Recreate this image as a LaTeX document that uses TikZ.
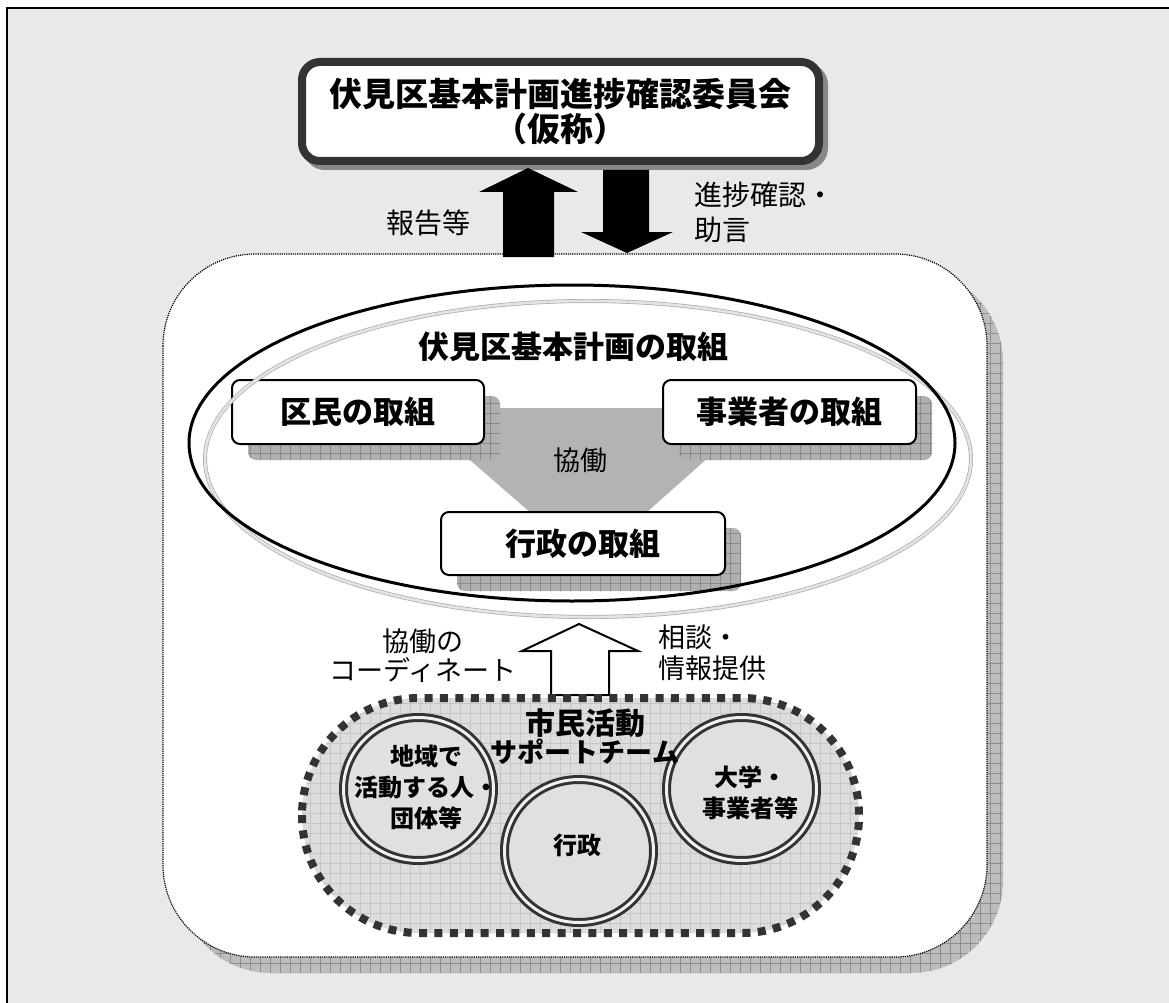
\documentclass[tikz,border=0pt]{standalone}
\usepackage{fontspec}
\setmainfont{Noto Sans CJK JP}
\usetikzlibrary{shapes.geometric,patterns.meta}
\definecolor{bgc}{HTML}{E9E9E9}
\definecolor{darkb}{HTML}{333333}
\definecolor{topsh}{HTML}{888888}
\definecolor{bigsh}{HTML}{BDBDBD}
\definecolor{bigshgrid}{HTML}{8F8F8F}
\definecolor{boxsh}{HTML}{B0B0B0}
\definecolor{boxshgrid}{HTML}{8A8A8A}
\definecolor{trap}{HTML}{B3B3B3}
\definecolor{stadfill}{HTML}{DDDDDD}
\definecolor{stadgrid}{HTML}{C6C6C6}
\definecolor{circfill}{HTML}{E0E0E0}
\tikzset{
  topbox/.style={draw=darkb, line width=8pt, fill=white, rounded corners=18pt,
    minimum width=517pt, minimum height=99pt, inner sep=0pt, align=center,
    font=\bfseries\fontsize{33}{35}\selectfont},
  topshadow/.style={draw=topsh, fill=topsh, line width=8pt, rounded corners=18pt},
  bigshadow/.style={preaction={fill=bigsh}, pattern={Hatch[distance=10pt,line width=0.6pt]},
    pattern color=bigshgrid, rounded corners=92pt},
  bigrect/.style={fill=white, draw=black, line width=1.2pt, densely dotted, rounded corners=92pt},
  blackarrow/.style={fill=black},
  whitearrow/.style={fill=white, draw=black, line width=2pt, line join=miter},
  lbl/.style={font=\fontsize{28}{35}\selectfont, inner sep=0pt},
  boxshadow/.style={preaction={fill=boxsh}, pattern={Hatch[distance=10pt,line width=0.6pt]},
    pattern color=boxshgrid, rounded corners=8pt},
  actbox/.style={draw=black, line width=2pt, fill=white, rounded corners=8pt,
    minimum height=64pt, inner sep=0pt, font=\bfseries\fontsize{31}{33}\selectfont},
  ringshadow/.style={draw=gray!65, double=gray!22, double distance=2.6pt, line width=0.7pt},
  mainellipse/.style={draw=black, line width=3pt},
  stadium/.style={preaction={fill=stadfill}, pattern={Hatch[distance=10pt,line width=0.6pt]},
    pattern color=stadgrid},
  stadborder/.style={draw=darkb, line width=8pt, dash pattern=on 8pt off 7.4pt, rounded corners=117pt},
  ring/.style={ellipse, draw=darkb, double=gray!12, double distance=3pt, line width=3pt,
    fill=circfill, inner sep=0pt},
  ctext/.style={font=\bfseries\fontsize{24}{31}\selectfont, align=center, inner sep=0pt},
}
\begin{document}
\begin{tikzpicture}[x=1pt,y=-1pt]
\useasboundingbox (0,0) rectangle (1169,1003);
% background and frame
\fill[white] (0,0) rectangle (1169,1003);
\fill[bgc] (7,8) rectangle (1169,1003);
\draw[line width=2.2pt] (7,1003) -- (7,8) -- (1169,8);

% top committee box
\draw[topshadow] (307,67) rectangle (824,166);
\node[topbox] (top) at (560.5,111.5) {伏見区基本計画進捗確認委員会\\（仮称）};

% big rounded area
\fill[bigshadow] (179,270) rectangle (1003,973);
\draw[bigrect] (163,254) rectangle (987,957);

% black arrows
\fill[blackarrow] (503,257) -- (503,192) -- (479,192) -- (528,168) -- (578,192) -- (554,192) -- (554,257) -- cycle;
\fill[blackarrow] (603,170) -- (649,170) -- (649,232) -- (673,232) -- (627,253) -- (581,232) -- (603,232) -- cycle;
\node[lbl] (hokoku) at (428,223) {報告等};
\node[lbl, anchor=west, align=left] (shinchoku) at (694,212.5) {進捗確認・\\助言};

% cooperation trapezoid
\fill[trap] (410,408) -- (764,408) -- (638,520) -- (539,520) -- cycle;

% box shadows
\fill[boxshadow] (248,396) rectangle (500,460);
\fill[boxshadow] (679,396) rectangle (932,460);
\fill[boxshadow] (457,528) rectangle (741,591);

% boxes
\node[actbox, minimum width=252pt] (kumin) at (358,412) {区民の取組};
\node[actbox, minimum width=253pt] (jigyo) at (789.5,412) {事業者の取組};
\node[actbox, minimum width=284pt, minimum height=63pt] (gyosei) at (583,543.5) {行政の取組};

% ellipses
\draw[ringshadow] (588,459) ellipse [x radius=383, y radius=158];
\draw[mainellipse] (572,443) ellipse [x radius=383, y radius=158];
\node[font=\bfseries\fontsize{31}{33}\selectfont, inner sep=0pt] (title) at (573,347) {伏見区基本計画の取組};
\node[lbl, font=\fontsize{27}{30}\selectfont] (kyodo) at (580,460) {協働};

% white arrow and labels
\draw[whitearrow] (551,695) -- (551,651) -- (522,651) -- (579,624) -- (638,651) -- (609,651) -- (609,695) -- cycle;
\node[lbl, align=center, font=\fontsize{27}{29}\selectfont] (coord) at (423,656) {協働の\\コーディネート};
\node[lbl, anchor=west, align=left, font=\fontsize{27}{31}\selectfont] (sodan) at (658,652.5) {相談・\\情報提供};

% support team stadium
\fill[stadium, rounded corners=117pt] (302,698) rectangle (859,933);
\draw[stadborder] (302,698) rectangle (859,933);

% circles
\node[ring, minimum width=150pt, minimum height=143pt] (c1) at (418.5,789) {};
\node[ring, minimum width=149pt, minimum height=143pt] (c2) at (579,851) {};
\node[ring, minimum width=150pt, minimum height=143pt] (c3) at (741.5,789) {};
\node[ctext] (t1) at (426,787) {地域で\\活動する人・\\団体等};
\node[ctext] (t2) at (577,845) {行政};
\node[ctext] (t3) at (750,793) {大学・\\事業者等};
\node[font=\bfseries\fontsize{30}{32}\selectfont, inner sep=0pt] (shimin) at (585,723) {市民活動};
\node[font=\bfseries\fontsize{27}{30}\selectfont, inner sep=0pt] (support) at (585,752) {サポートチーム};
\end{tikzpicture}
\end{document}
